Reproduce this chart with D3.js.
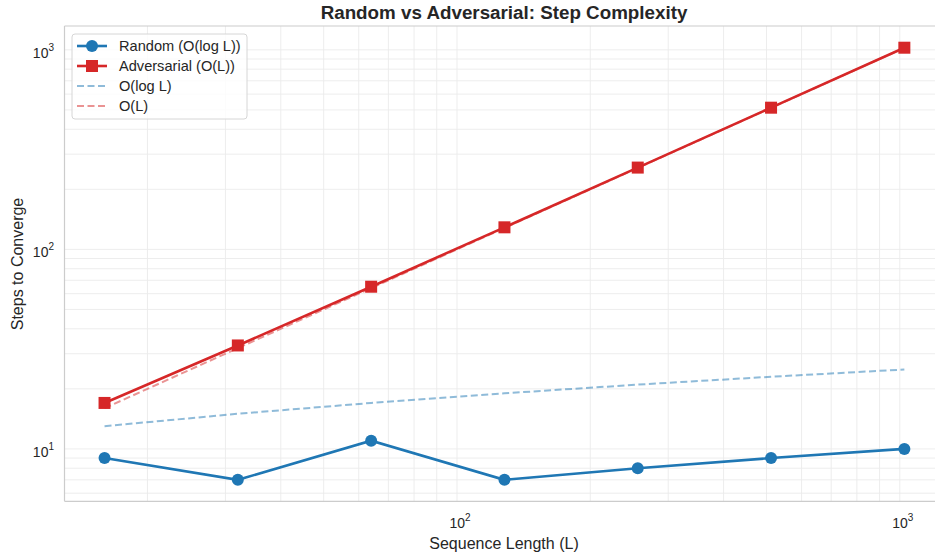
<!DOCTYPE html>
<html><head><meta charset="utf-8">
<script src="https://cdn.jsdelivr.net/npm/d3@7"></script>
<style>
body{margin:0;background:#fff;}
svg{font-family:"Liberation Sans",Arial,sans-serif;display:block;}
</style></head>
<body>
<svg id="c" width="935" height="554"></svg>
<script>
const lengths = [16, 32, 64, 128, 256, 512, 1024];
const randomSteps = [9, 7, 11, 7, 8, 9, 10];
const adversarialSteps = [17, 33, 65, 129, 257, 513, 1025];
const refLogL = [13, 15, 17, 19, 21, 23, 25];
const refL = [16, 32, 64, 128, 256, 512, 1024];
const xTicks = [100, 1000];
const yTicks = [10, 100, 1000];
const legendLabels = ["Random (O(log L))", "Adversarial (O(L))", "O(log L)", "O(L)"];

(function(){
const svg = d3.select("#c");
const pL = 64.5, pT = 26, pB = 501.3, pR = 944.3;
const xDom = [Math.pow(10, 1.1137), Math.pow(10, 3.1005)];
const yDom = [Math.pow(10, 0.7375), Math.pow(10, 3.1195)];
const x = d3.scaleLog().domain(xDom).range([pL, pR]);
const y = d3.scaleLog().domain(yDom).range([pB, pT]);

const g = svg.append("g");
svg.append("defs").append("clipPath").attr("id","clip").append("rect")
  .attr("x", pL).attr("y", pT).attr("width", pR-pL).attr("height", pB-pT);

const xMinor = [];
for (let d = 10; d <= 1000; d *= 10) for (let k = 1; k < 10; k++) { const v = d*k; if (v >= xDom[0] && v <= xDom[1]) xMinor.push(v); }
const yMinor = [];
for (let d = 1; d <= 1000; d *= 10) for (let k = 1; k < 10; k++) { const v = d*k; if (v >= yDom[0] && v <= yDom[1]) yMinor.push(v); }
g.selectAll(".gx").data(xMinor).join("line")
  .attr("x1", d=>x(d)).attr("x2", d=>x(d)).attr("y1", pT).attr("y2", pB)
  .attr("stroke", "#ebebeb").attr("stroke-width", 0.9);
g.selectAll(".gy").data(yMinor).join("line")
  .attr("x1", pL).attr("x2", 935).attr("y1", d=>y(d)).attr("y2", d=>y(d))
  .attr("stroke", "#ebebeb").attr("stroke-width", 0.9);

g.append("line").attr("x1", pL).attr("x2", pL).attr("y1", pT).attr("y2", pB).attr("stroke", "#cccccc").attr("stroke-width", 1.2);
g.append("line").attr("x1", pL).attr("x2", 935).attr("y1", pB).attr("y2", pB).attr("stroke", "#cccccc").attr("stroke-width", 1.2);
g.append("line").attr("x1", pL).attr("x2", 935).attr("y1", pT).attr("y2", pT).attr("stroke", "#cccccc").attr("stroke-width", 1.2);

function pow10label(sel, v) {
  const e = Math.round(Math.log10(v));
  sel.append("tspan").text("10");
  sel.append("tspan").attr("dy", -7).attr("font-size", 10).text(e);
}
xTicks.forEach(v => {
  const t = svg.append("text").attr("x", x(v)+3).attr("y", 528).attr("text-anchor", "middle")
    .attr("font-size", 14).attr("fill", "#262626");
  pow10label(t, v);
});
yTicks.forEach(v => {
  const t = svg.append("text").attr("x", 54).attr("y", y(v)+8).attr("text-anchor", "end")
    .attr("font-size", 14).attr("fill", "#262626");
  pow10label(t, v);
});

svg.append("text").attr("x", 504).attr("y", 549).attr("text-anchor", "middle").attr("font-size", 16).attr("fill", "#262626").text("Sequence Length (L)");
svg.append("text").attr("transform", "translate(23,264) rotate(-90)").attr("text-anchor", "middle").attr("font-size", 16).attr("fill", "#262626").text("Steps to Converge");
svg.append("text").attr("x", 504).attr("y", 19).attr("text-anchor", "middle").attr("font-size", 18.8).attr("font-weight", "bold").attr("fill", "#262626").text("Random vs Adversarial: Step Complexity");

const plot = svg.append("g").attr("clip-path", "url(#clip)");
const line = d3.line().x(d=>x(d[0])).y(d=>y(d[1]));
const zip = (a,b)=>a.map((v,i)=>[v,b[i]]);

plot.append("path").datum(zip(lengths, refLogL)).attr("d", line).attr("fill","none")
  .attr("stroke", "#1f77b4").attr("stroke-opacity", 0.5).attr("stroke-width", 2).attr("stroke-dasharray", "7,3.5");
plot.append("path").datum(zip(lengths, refL)).attr("d", line).attr("fill","none")
  .attr("stroke", "#d62728").attr("stroke-opacity", 0.5).attr("stroke-width", 2).attr("stroke-dasharray", "7,3.5");

plot.append("path").datum(zip(lengths, randomSteps)).attr("d", line).attr("fill","none")
  .attr("stroke", "#1f77b4").attr("stroke-width", 2.6);
plot.selectAll(".rc").data(zip(lengths, randomSteps)).join("circle")
  .attr("cx", d=>x(d[0])).attr("cy", d=>y(d[1])).attr("r", 6).attr("fill", "#1f77b4");
plot.append("path").datum(zip(lengths, adversarialSteps)).attr("d", line).attr("fill","none")
  .attr("stroke", "#d62728").attr("stroke-width", 2.6);
plot.selectAll(".as").data(zip(lengths, adversarialSteps)).join("rect")
  .attr("x", d=>x(d[0])-6).attr("y", d=>y(d[1])-6).attr("width", 12).attr("height", 12).attr("fill", "#d62728");

const lg = svg.append("g");
lg.append("rect").attr("x", 72).attr("y", 34).attr("width", 175).attr("height", 85).attr("rx", 3)
  .attr("fill", "#ffffff").attr("fill-opacity", 0.8).attr("stroke", "#d6d6d6").attr("stroke-width", 1);
const styles = [
  {c:"#1f77b4", op:1, w:2.6, dash:null, m:"circle"},
  {c:"#d62728", op:1, w:2.6, dash:null, m:"square"},
  {c:"#1f77b4", op:0.5, w:2, dash:"7,3.5", m:null},
  {c:"#d62728", op:0.5, w:2, dash:"7,3.5", m:null}
];
legendLabels.forEach((lab, i) => {
  const yy = 46 + i*20;
  const s = styles[i];
  const l = lg.append("line").attr("x1", 77).attr("x2", 107).attr("y1", yy).attr("y2", yy)
    .attr("stroke", s.c).attr("stroke-opacity", s.op).attr("stroke-width", s.w);
  if (s.dash) l.attr("stroke-dasharray", s.dash);
  if (s.m === "circle") lg.append("circle").attr("cx", 92).attr("cy", yy).attr("r", 6).attr("fill", s.c);
  if (s.m === "square") lg.append("rect").attr("x", 86).attr("y", yy-6).attr("width", 12).attr("height", 12).attr("fill", s.c);
  lg.append("text").attr("x", 119).attr("y", yy+5).attr("font-size", 14.6).attr("fill", "#262626").text(lab);
});
})();
</script>
</body></html>
